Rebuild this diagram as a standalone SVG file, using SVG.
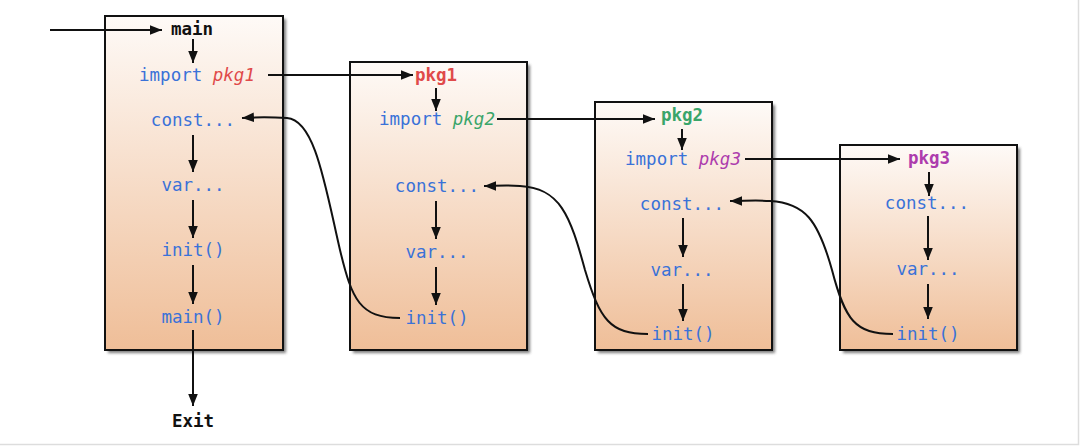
<svg xmlns="http://www.w3.org/2000/svg" width="1080" height="446" viewBox="0 0 1080 446">
<defs>
<linearGradient id="g" x1="0" y1="0" x2="0" y2="1">
<stop offset="0" stop-color="#fefaf7"/>
<stop offset="1" stop-color="#efbe98"/>
</linearGradient>
<filter id="blur" x="-10%" y="-10%" width="120%" height="120%"><feGaussianBlur stdDeviation="1.5"/></filter>
<marker id="ah" viewBox="0 0 10 10" refX="10" refY="5" markerWidth="12" markerHeight="12" markerUnits="userSpaceOnUse" orient="auto">
<path d="M0,1 L10,5 L0,9 Z" fill="#111"/>
</marker>
</defs>
<style>
.box{fill:url(#g);stroke:#111;stroke-width:2}
.sh{fill:#444;opacity:0.7;filter:url(#blur)}
text{font-family:"DejaVu Sans Mono","Liberation Mono",monospace;font-size:17.5px;text-anchor:middle}
.b{fill:#3a72d8}
.k{fill:#111;font-weight:bold}
.red{fill:#e04a4a}
.grn{fill:#3aa56a}
.pur{fill:#ad3cad}
.it{font-style:italic}
.c{fill:none;stroke:#111;stroke-width:2;marker-end:url(#ah)}
</style>
<rect width="1080" height="446" fill="#fff"/>
<path d="M1078.5,0 V444.5 H0" fill="none" stroke="#ddd" stroke-width="1.5"/>

<g id="main">
<rect class="sh" x="108" y="19" width="178" height="334"/>
<rect class="box" x="105" y="16" width="178" height="334"/>
<text class="k" x="192" y="35">main</text>
<text x="197" y="81"><tspan class="b">import </tspan><tspan class="red it">pkg1</tspan></text>
<text class="b" x="193" y="126">const...</text>
<text class="b" x="193" y="191">var...</text>
<text class="b" x="193" y="256">init()</text>
<text class="b" x="193" y="323">main()</text>
</g>

<g id="pkg1">
<rect class="sh" x="353" y="65" width="177" height="288"/>
<rect class="box" x="350" y="62" width="177" height="288"/>
<text class="red" x="436" y="81" font-weight="bold">pkg1</text>
<text x="437" y="125"><tspan class="b">import </tspan><tspan class="grn it">pkg2</tspan></text>
<text class="b" x="437" y="192">const...</text>
<text class="b" x="437" y="258">var...</text>
<text class="b" x="437" y="324">init()</text>
</g>

<g id="pkg2">
<rect class="sh" x="598" y="105" width="177" height="248"/>
<rect class="box" x="595" y="102" width="177" height="248"/>
<text class="grn" x="682" y="121" font-weight="bold">pkg2</text>
<text x="683" y="165"><tspan class="b">import </tspan><tspan class="pur it">pkg3</tspan></text>
<text class="b" x="682" y="210">const...</text>
<text class="b" x="682" y="276">var...</text>
<text class="b" x="683" y="340">init()</text>
</g>

<g id="pkg3">
<rect class="sh" x="843" y="148" width="177" height="205"/>
<rect class="box" x="840" y="145" width="177" height="205"/>
<text class="pur" x="929" y="164" font-weight="bold">pkg3</text>
<text class="b" x="927" y="209">const...</text>
<text class="b" x="928" y="275">var...</text>
<text class="b" x="928" y="340">init()</text>
</g>

<g id="exit">
<text class="k" x="193" y="427">Exit</text>
</g>

<g id="connectors">
<path class="c" d="M50,30 H162"/>
<path class="c" d="M193,39 V63"/>
<path class="c" d="M193,135 V172"/>
<path class="c" d="M193,200 V238"/>
<path class="c" d="M193,265 V304"/>
<path class="c" d="M193,330 V406"/>
<path class="c" d="M268,75 H413"/>

<path class="c" d="M436,88 V111"/>
<path class="c" d="M436,201 V239"/>
<path class="c" d="M436,267 V305"/>
<path class="c" d="M497,119 H655"/>

<path class="c" d="M682,129 V150"/>
<path class="c" d="M683,218 V257"/>
<path class="c" d="M683,284 V321"/>
<path class="c" d="M745,159 H900"/>

<path class="c" d="M929,172 V196"/>
<path class="c" d="M928,216 V260"/>
<path class="c" d="M928,284 V319"/>

<path class="c" d="M400,318 C360,318 352,300 340,250 C325,185 315,120 287,118 C270,117 258,117 242,118"/>
<path class="c" d="M648,334 C610,334 600,320 585,270 C570,215 560,188 520,186 C505,185 495,186 484,186"/>
<path class="c" d="M893,334 C855,334 845,320 832,270 C818,220 805,203 770,201 C755,200 745,201 730,201"/>
</g>
</svg>
